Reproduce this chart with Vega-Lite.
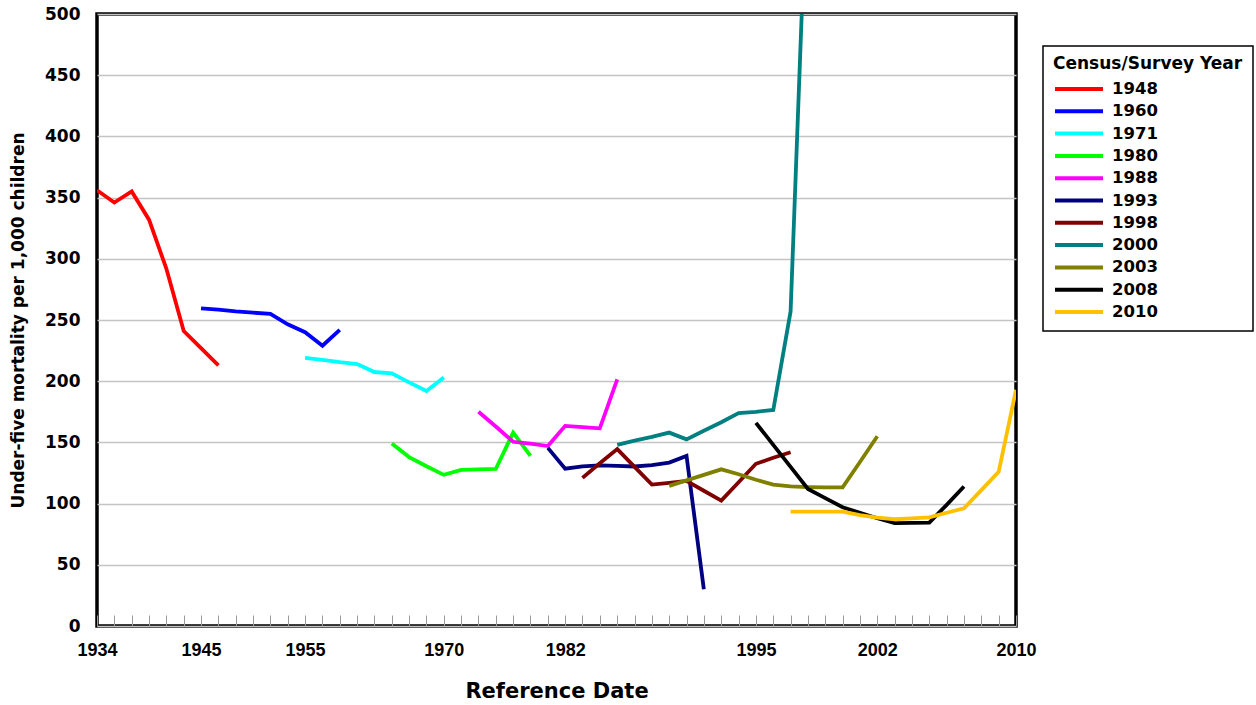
{
  "$schema": "https://vega.github.io/schema/vega-lite/v6.json",
  "width": 919,
  "height": 612,
  "autosize": {"type": "none"},
  "padding": {"left": 97, "top": 14, "right": 240, "bottom": 79},
  "background": "white",
  "config": {"view": {"stroke": "black", "strokeWidth": 3.5}, "font": "DejaVu Sans", "legend": {"strokeWidth": 1.5}},
  "data": {"values": [
    {"survey": "1948", "date": 1934, "u5mr": 356},
    {"survey": "1948", "date": 1935.83, "u5mr": 346},
    {"survey": "1948", "date": 1937.67, "u5mr": 355},
    {"survey": "1948", "date": 1939.5, "u5mr": 332},
    {"survey": "1948", "date": 1941.33, "u5mr": 292},
    {"survey": "1948", "date": 1943.17, "u5mr": 241},
    {"survey": "1948", "date": 1945, "u5mr": 227},
    {"survey": "1948", "date": 1946.67, "u5mr": 213},
    {"survey": "1960", "date": 1945, "u5mr": 259.5},
    {"survey": "1960", "date": 1946.67, "u5mr": 258.5},
    {"survey": "1960", "date": 1948.33, "u5mr": 257},
    {"survey": "1960", "date": 1950, "u5mr": 256},
    {"survey": "1960", "date": 1951.67, "u5mr": 255},
    {"survey": "1960", "date": 1953.33, "u5mr": 246.5},
    {"survey": "1960", "date": 1955, "u5mr": 240},
    {"survey": "1960", "date": 1956.88, "u5mr": 229},
    {"survey": "1960", "date": 1958.75, "u5mr": 242},
    {"survey": "1971", "date": 1955, "u5mr": 219},
    {"survey": "1971", "date": 1956.88, "u5mr": 217.5},
    {"survey": "1971", "date": 1958.75, "u5mr": 215.5},
    {"survey": "1971", "date": 1960.63, "u5mr": 214},
    {"survey": "1971", "date": 1962.5, "u5mr": 207.5},
    {"survey": "1971", "date": 1964.38, "u5mr": 206.5},
    {"survey": "1971", "date": 1966.25, "u5mr": 199},
    {"survey": "1971", "date": 1968.13, "u5mr": 192},
    {"survey": "1971", "date": 1970, "u5mr": 203},
    {"survey": "1980", "date": 1964.38, "u5mr": 149},
    {"survey": "1980", "date": 1966.25, "u5mr": 138},
    {"survey": "1980", "date": 1968.13, "u5mr": 130.5},
    {"survey": "1980", "date": 1970, "u5mr": 123.5},
    {"survey": "1980", "date": 1971.71, "u5mr": 127.5},
    {"survey": "1980", "date": 1973.43, "u5mr": 128},
    {"survey": "1980", "date": 1975.14, "u5mr": 128.3},
    {"survey": "1980", "date": 1976.86, "u5mr": 158},
    {"survey": "1980", "date": 1978.57, "u5mr": 139},
    {"survey": "1988", "date": 1973.43, "u5mr": 175},
    {"survey": "1988", "date": 1975.14, "u5mr": 163},
    {"survey": "1988", "date": 1976.86, "u5mr": 150.5},
    {"survey": "1988", "date": 1978.57, "u5mr": 149},
    {"survey": "1988", "date": 1980.29, "u5mr": 147},
    {"survey": "1988", "date": 1982, "u5mr": 163.5},
    {"survey": "1988", "date": 1983.18, "u5mr": 162.5},
    {"survey": "1988", "date": 1984.36, "u5mr": 161.5},
    {"survey": "1988", "date": 1985.55, "u5mr": 201.5},
    {"survey": "1993", "date": 1980.29, "u5mr": 145.5},
    {"survey": "1993", "date": 1982, "u5mr": 128.5},
    {"survey": "1993", "date": 1983.18, "u5mr": 130.5},
    {"survey": "1993", "date": 1984.36, "u5mr": 131.3},
    {"survey": "1993", "date": 1985.55, "u5mr": 130.8},
    {"survey": "1993", "date": 1986.73, "u5mr": 130.3},
    {"survey": "1993", "date": 1987.91, "u5mr": 131.5},
    {"survey": "1993", "date": 1989.09, "u5mr": 133.5},
    {"survey": "1993", "date": 1990.27, "u5mr": 139},
    {"survey": "1993", "date": 1991.45, "u5mr": 30},
    {"survey": "1998", "date": 1983.18, "u5mr": 121},
    {"survey": "1998", "date": 1984.36, "u5mr": 133},
    {"survey": "1998", "date": 1985.55, "u5mr": 144.5},
    {"survey": "1998", "date": 1986.73, "u5mr": 130},
    {"survey": "1998", "date": 1987.91, "u5mr": 115.5},
    {"survey": "1998", "date": 1989.09, "u5mr": 117},
    {"survey": "1998", "date": 1990.27, "u5mr": 118.5},
    {"survey": "1998", "date": 1991.45, "u5mr": 110.5},
    {"survey": "1998", "date": 1992.64, "u5mr": 102.5},
    {"survey": "1998", "date": 1993.82, "u5mr": 117.5},
    {"survey": "1998", "date": 1995, "u5mr": 132.5},
    {"survey": "1998", "date": 1996, "u5mr": 137.5},
    {"survey": "1998", "date": 1997, "u5mr": 142},
    {"survey": "2000", "date": 1985.55, "u5mr": 148},
    {"survey": "2000", "date": 1986.73, "u5mr": 151.5},
    {"survey": "2000", "date": 1987.91, "u5mr": 154.5},
    {"survey": "2000", "date": 1989.09, "u5mr": 158},
    {"survey": "2000", "date": 1990.27, "u5mr": 152.5},
    {"survey": "2000", "date": 1991.45, "u5mr": 159.5},
    {"survey": "2000", "date": 1992.64, "u5mr": 166.5},
    {"survey": "2000", "date": 1993.82, "u5mr": 174},
    {"survey": "2000", "date": 1995, "u5mr": 175},
    {"survey": "2000", "date": 1996, "u5mr": 176.5},
    {"survey": "2000", "date": 1997, "u5mr": 257},
    {"survey": "2000", "date": 1998, "u5mr": 636},
    {"survey": "2003", "date": 1989.09, "u5mr": 114.5},
    {"survey": "2003", "date": 1990.27, "u5mr": 119},
    {"survey": "2003", "date": 1991.45, "u5mr": 123.5},
    {"survey": "2003", "date": 1992.64, "u5mr": 128},
    {"survey": "2003", "date": 1993.82, "u5mr": 124},
    {"survey": "2003", "date": 1995, "u5mr": 119.5},
    {"survey": "2003", "date": 1996, "u5mr": 115.5},
    {"survey": "2003", "date": 1997, "u5mr": 114},
    {"survey": "2003", "date": 1998, "u5mr": 113.5},
    {"survey": "2003", "date": 1999, "u5mr": 113.3},
    {"survey": "2003", "date": 2000, "u5mr": 113.3},
    {"survey": "2003", "date": 2001, "u5mr": 134},
    {"survey": "2003", "date": 2002, "u5mr": 155},
    {"survey": "2008", "date": 1995, "u5mr": 166},
    {"survey": "2008", "date": 1996, "u5mr": 148},
    {"survey": "2008", "date": 1997, "u5mr": 130},
    {"survey": "2008", "date": 1998, "u5mr": 112},
    {"survey": "2008", "date": 1999, "u5mr": 104.5},
    {"survey": "2008", "date": 2000, "u5mr": 97},
    {"survey": "2008", "date": 2001, "u5mr": 92.5},
    {"survey": "2008", "date": 2002, "u5mr": 88},
    {"survey": "2008", "date": 2003, "u5mr": 84},
    {"survey": "2008", "date": 2004, "u5mr": 84.2},
    {"survey": "2008", "date": 2005, "u5mr": 84.4},
    {"survey": "2008", "date": 2006, "u5mr": 99},
    {"survey": "2008", "date": 2007, "u5mr": 114},
    {"survey": "2010", "date": 1997, "u5mr": 93.4},
    {"survey": "2010", "date": 1998, "u5mr": 93.4},
    {"survey": "2010", "date": 1999, "u5mr": 93.4},
    {"survey": "2010", "date": 2000, "u5mr": 93.4},
    {"survey": "2010", "date": 2001, "u5mr": 90.5},
    {"survey": "2010", "date": 2002, "u5mr": 88.5},
    {"survey": "2010", "date": 2003, "u5mr": 87.2},
    {"survey": "2010", "date": 2004, "u5mr": 88},
    {"survey": "2010", "date": 2005, "u5mr": 88.8},
    {"survey": "2010", "date": 2006, "u5mr": 92.5},
    {"survey": "2010", "date": 2007, "u5mr": 96.2},
    {"survey": "2010", "date": 2008, "u5mr": 111},
    {"survey": "2010", "date": 2009, "u5mr": 126},
    {"survey": "2010", "date": 2010, "u5mr": 193}
  ]},
  "mark": {"type": "line", "strokeWidth": 3.8, "clip": true},
  "encoding": {
    "x": {
      "field": "date",
      "type": "quantitative",
      "title": "Reference Date",
      "scale": {
        "domain": [1934, 1945, 1955, 1970, 1982, 1995, 2002, 2010],
        "range": [0, 104.04, 208.08, 346.79, 468.17, 658.92, 780.30, 919],
        "nice": false,
        "zero": false
      },
      "axis": {
        "values": [1934, 1935.83, 1937.67, 1939.5, 1941.33, 1943.17, 1945, 1946.67, 1948.33, 1950, 1951.67, 1953.33, 1955, 1956.88, 1958.75, 1960.63, 1962.5, 1964.38, 1966.25, 1968.13, 1970, 1971.71, 1973.43, 1975.14, 1976.86, 1978.57, 1980.29, 1982, 1983.18, 1984.36, 1985.55, 1986.73, 1987.91, 1989.09, 1990.27, 1991.45, 1992.64, 1993.82, 1995, 1996, 1997, 1998, 1999, 2000, 2001, 2002, 2003, 2004, 2005, 2006, 2007, 2008, 2009, 2010],
        "labelExpr": "(datum.value == 1934 || datum.value == 1945 || datum.value == 1955 || datum.value == 1970 || datum.value == 1982 || datum.value == 1995 || datum.value == 2002 || datum.value == 2010) ? format(datum.value, 'd') : ''",
        "labelOverlap": false,
        "labelFlush": false,
        "domain": false,
        "grid": false,
        "tickSize": -11,
        "tickColor": "#9a9a9a",
        "tickWidth": 1,
        "labelFont": "Liberation Sans",
        "labelFontWeight": "bold",
        "labelFontSize": 18,
        "labelColor": "black",
        "labelPadding": 26,
        "titleFont": "DejaVu Sans",
        "titleFontSize": 21,
        "titleFontWeight": "bold",
        "titleColor": "black",
        "titlePadding": 21
      }
    },
    "y": {
      "field": "u5mr",
      "type": "quantitative",
      "title": "Under-five mortality per 1,000 children",
      "scale": {"domain": [0, 500], "nice": false},
      "axis": {
        "values": [0, 50, 100, 150, 200, 250, 300, 350, 400, 450, 500],
        "ticks": false,
        "domain": false,
        "grid": true,
        "gridColor": "#c4c4c4",
        "gridWidth": 1.5,
        "labelFont": "DejaVu Sans",
        "labelFontWeight": "bold",
        "labelFontSize": 17,
        "labelColor": "black",
        "labelPadding": 17,
        "labelFlush": false,
        "titleFont": "DejaVu Sans",
        "titleFontSize": 17,
        "titleFontWeight": "bold",
        "titleColor": "black",
        "titlePadding": 17
      }
    },
    "color": {
      "field": "survey",
      "type": "nominal",
      "scale": {
        "domain": ["1948", "1960", "1971", "1980", "1988", "1993", "1998", "2000", "2003", "2008", "2010"],
        "range": ["#ff0000", "#0000ff", "#00ffff", "#00ff00", "#ff00ff", "#000080", "#800000", "#008080", "#808000", "#000000", "#ffc000"]
      },
      "legend": {
        "title": "Census/Survey Year",
        "orient": "none",
        "legendX": 946,
        "legendY": 32,
        "strokeColor": "black",
        "fillColor": "white",
        "padding": 10,
        "titleFont": "DejaVu Sans",
        "titleFontSize": 17,
        "titleFontWeight": "bold",
        "titleColor": "black",
        "titleLimit": 400,
        "titlePadding": 6,
        "labelFont": "DejaVu Sans",
        "labelFontSize": 16.5,
        "labelFontWeight": "bold",
        "labelColor": "black",
        "symbolType": "M-1,0H5",
        "symbolSize": 256,
        "symbolStrokeWidth": 4,
        "labelOffset": 39,
        "rowPadding": 3.3
      }
    }
  }
}
